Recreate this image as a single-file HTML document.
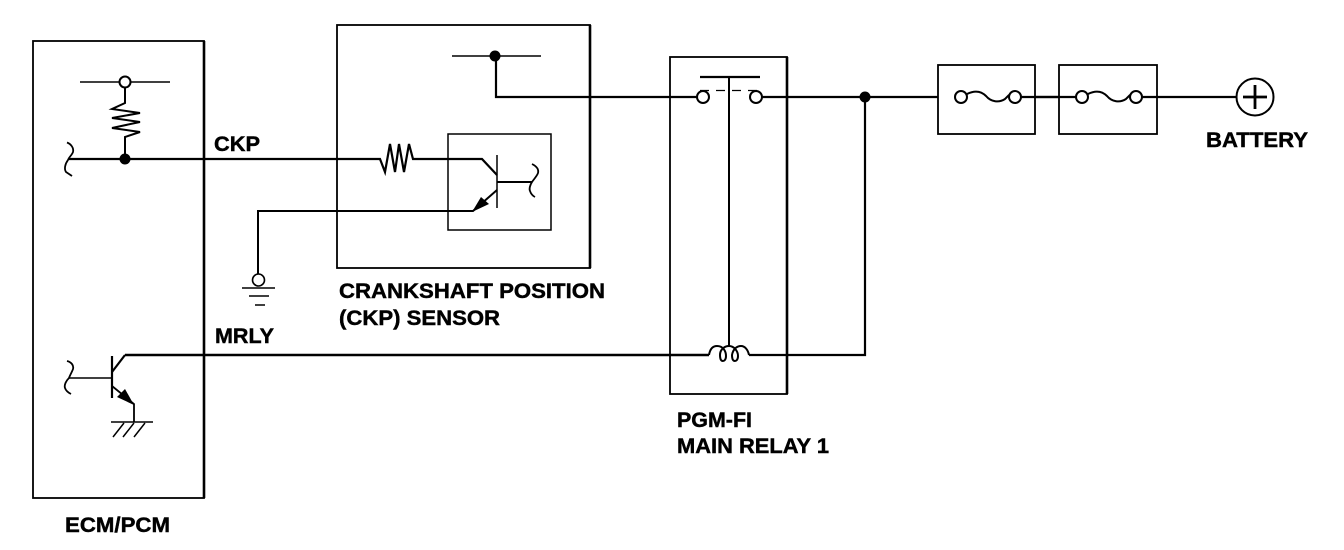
<!DOCTYPE html>
<html><head><meta charset="utf-8"><style>
html,body{margin:0;padding:0;background:#fff;width:1344px;height:550px;overflow:hidden}
svg{display:block}
text{font-family:"Liberation Sans",sans-serif;font-weight:bold;font-size:21.5px;fill:#000;stroke:#000;stroke-width:.45}
</style></head><body>
<svg width="1344" height="550" viewBox="0 0 1344 550" fill="none" stroke="#000" stroke-width="2.4">
<!-- boxes -->
<g stroke-width="1.8">
<rect x="33" y="41" width="171" height="457"/>
<rect x="337" y="25" width="253" height="243"/>
<rect x="670" y="57" width="117" height="337"/>
<rect x="448" y="134" width="103" height="96" stroke-width="1.5"/>
<rect x="938" y="65" width="97" height="69"/>
<rect x="1059" y="65" width="98" height="69"/>
</g>
<path d="M204 41V498M590 25V268M787 57V394" stroke-width="2.6"/>
<!-- ECM pull-up -->
<path d="M80 82H170" stroke-width="1.5"/>
<circle cx="125" cy="82" r="5.5" fill="#fff" stroke-width="2"/>
<path d="M125 88V103L112 109L140 113L112 118L140 122L112 128L140 132L125 137V159" stroke-width="2"/>
<circle cx="125" cy="159" r="5.5" fill="#000" stroke="none"/>
<path d="M67 142.500C71 144 74 148 73 152C72 155 69 157 68 160C65 164 64 169 66 172L72 176" stroke-width="1.800"/>
<path d="M69 159H380L385 172L390 144L395 172L399 144L404 172L409 144L413 159H482L497 175" stroke-width="2.2"/>
<!-- sensor transistor -->
<path d="M497 155V208" stroke-width="1.5"/>
<path d="M497 182H532" stroke-width="2"/>
<path d="M532 164C536 166 539 169 538 173C537 176 534 179 532 182C530 185 529 189 530 191C531 194 533 196 535 197" stroke-width="1.800"/>
<path d="M497 190L473 211H258V274" stroke-width="2"/>
<polygon points="472,212 481,197 489,204" fill="#000" stroke="none"/>
<!-- sensor ground -->
<circle cx="258.500" cy="280" r="6" fill="#fff" stroke-width="1.600"/>
<path d="M242 288H275M249 296H269M255 305H265" stroke-width="1.600"/>
<!-- sensor rail -->
<path d="M452 56H541" stroke-width="1.500"/>
<circle cx="495" cy="56" r="5.500" fill="#000" stroke="none"/>
<path d="M495 56H496V97H697" stroke-width="2.200"/>
<!-- relay -->
<path d="M700 77H760" stroke-width="2.200"/>
<path d="M729 77V346" stroke-width="2"/>
<path d="M700 90.500H709M716 90.500H725M732 90.500H741M748 90.500H757" stroke-width="1.200"/>
<circle cx="703" cy="97" r="6" fill="#fff" stroke-width="2"/>
<circle cx="756" cy="97" r="6" fill="#fff" stroke-width="2"/>
<path d="M762 97H938M1035 97H1059" stroke-width="2.200"/>
<circle cx="865" cy="97" r="5.500" fill="#000" stroke="none"/>
<path d="M865 97V355H749" stroke-width="2.200"/>
<path d="M125 355H709" stroke-width="2.400"/>
<path d="M709 355C710 349 713 346 717 346C723 346 726 351 726 356C726 360 724 361 723 361C721 361 720 359 720 355C720 349 725 346 729 346C734 346 738 351 738 356C738 360 736 361 735 361C733 361 732 359 732 355C733 349 737 346 741 346C745 346 748 350 749 355" stroke-width="2"/>
<!-- fuses -->
<path d="M967 94C975 90 981 91 986 96C991 102 999 103 1005 99L1009 95" stroke-width="2"/>
<path d="M1088 94C1096 90 1102 91 1107 96C1112 102 1120 103 1126 99L1130 95" stroke-width="2"/>
<path d="M1021 97H1076M1142 97H1236" stroke-width="2.200"/>
<circle cx="961" cy="97" r="6" fill="#fff" stroke-width="2"/>
<circle cx="1015" cy="97" r="6" fill="#fff" stroke-width="2"/>
<circle cx="1082" cy="97" r="6" fill="#fff" stroke-width="2"/>
<circle cx="1136" cy="97" r="6" fill="#fff" stroke-width="2"/>
<!-- battery -->
<circle cx="1255" cy="97" r="18.500" stroke-width="2"/>
<path d="M1243 97H1267M1255 85V109" stroke-width="2.800"/>
<!-- ECM transistor -->
<path d="M112 356V398" stroke-width="2.200"/>
<path d="M112 372L125 355" stroke-width="2.200"/>
<path d="M69 378H112" stroke-width="1.400"/>
<path d="M67 361C71 362 74 365 73 369C72 372 70 375 69 378C66 381 64 385 65 388C66 391 69 393 71 394" stroke-width="1.800"/>
<path d="M112 386L134 404V422" stroke-width="1.800"/>
<polygon points="134,405 117,397 125,389" fill="#000" stroke="none"/>
<path d="M111 422H153" stroke-width="1.500"/>
<path d="M124 423L113 437M134 423L123 437M145 423L134 437" stroke-width="1.500"/>
<!-- labels -->
<text x="214" y="151" textLength="46" lengthAdjust="spacingAndGlyphs">CKP</text>
<text x="215" y="343" textLength="59" lengthAdjust="spacingAndGlyphs">MRLY</text>
<text x="339" y="298" textLength="266" lengthAdjust="spacingAndGlyphs">CRANKSHAFT POSITION</text>
<text x="339" y="325" textLength="161" lengthAdjust="spacingAndGlyphs">(CKP) SENSOR</text>
<text x="677" y="427" textLength="75" lengthAdjust="spacingAndGlyphs">PGM-FI</text>
<text x="677" y="453" textLength="152" lengthAdjust="spacingAndGlyphs">MAIN RELAY 1</text>
<text x="65" y="532" textLength="105" lengthAdjust="spacingAndGlyphs">ECM/PCM</text>
<text x="1206" y="147" textLength="102" lengthAdjust="spacingAndGlyphs">BATTERY</text>
</svg>
</body></html>
